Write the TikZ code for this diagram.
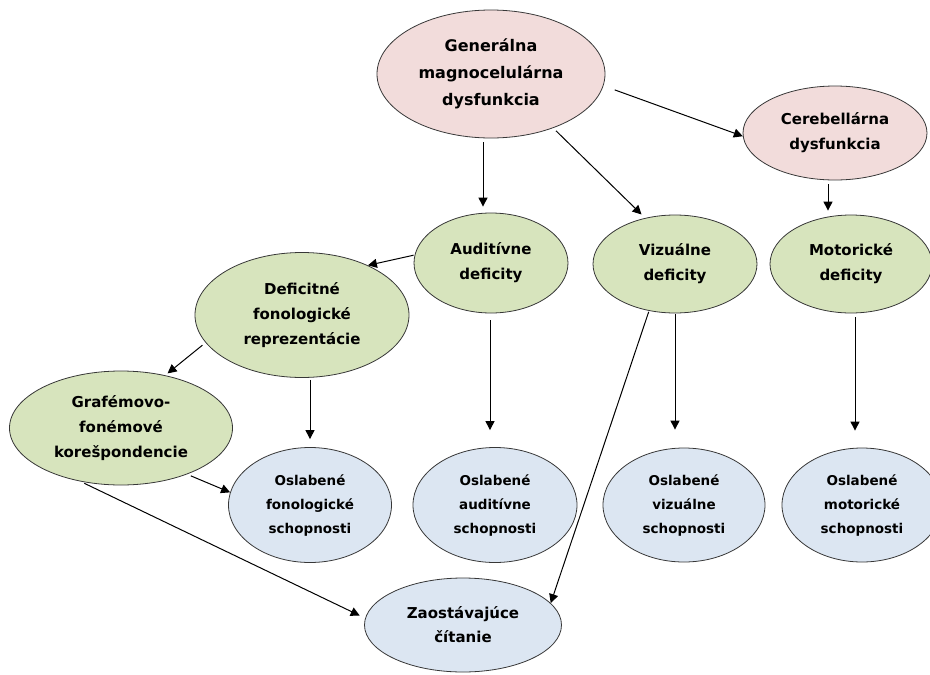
\documentclass[tikz,border=0pt]{standalone}
\usepackage{fontspec}
\setmainfont{DejaVu Sans}
\usepackage{tikz}
\usetikzlibrary{shapes.geometric, arrows.meta, calc}
\definecolor{ellpink}{RGB}{242,220,219}
\definecolor{ellgreen}{RGB}{215,228,189}
\definecolor{ellblue}{RGB}{220,230,242}
\definecolor{ellline}{RGB}{55,55,55}
\tikzset{
  causeR/.style={ellipse, inner sep=0pt, align=center, draw=ellline, fill=ellpink, line width=0.8pt, font=\bfseries\fontsize{15}{25}\selectfont},
  causeG/.style={ellipse, inner sep=0pt, align=center, draw=ellline, fill=ellgreen, line width=0.8pt, font=\bfseries\fontsize{15}{25}\selectfont},
  resultB/.style={ellipse, inner sep=0pt, align=center, draw=ellline, fill=ellblue, line width=0.8pt, font=\bfseries\fontsize{13.5}{24}\selectfont},
  arrow/.style={-{Triangle[length=9pt, width=9pt]}, line width=1pt, shorten <=4pt},
}

\begin{document}
\begin{tikzpicture}[x=1pt, y=-1pt]
\useasboundingbox (0,0) rectangle (930,675);
% causes
\node (gen) [causeR, minimum width=228pt, minimum height=128pt, font=\bfseries\fontsize{16}{27}\selectfont] at (491,74) {Generálna\\magnocelulárna\\dysfunkcia};
\node (cer) [causeR, minimum width=184pt, minimum height=94pt] at (835,133) {Cerebellárna\\dysfunkcia};
\node (aud) [causeG, minimum width=154pt, minimum height=100pt] at (491,263) {Auditívne\\deficity};
\node (viz) [causeG, minimum width=164pt, minimum height=98pt] at (675,264) {Vizuálne\\deficity};
\node (mot) [causeG, minimum width=162pt, minimum height=98pt] at (851,264) {Motorické\\deficity};
\node (def) [causeG, minimum width=214pt, minimum height=125pt] at (302,315) {Deficitné\\fonologické\\reprezentácie};
\node (graf) [causeG, minimum width=223pt, minimum height=114pt] at (121,428) {Grafémovo-\\fonémové\\korešpondencie};
% results
\node (oslfon) [resultB, minimum width=163pt, minimum height=115pt] at (310,505) {Oslabené\\fonologické\\schopnosti};
\node (oslaud) [resultB, minimum width=164pt, minimum height=115pt] at (495,505) {Oslabené\\auditívne\\schopnosti};
\node (oslviz) [resultB, minimum width=162pt, minimum height=114pt] at (684,505) {Oslabené\\vizuálne\\schopnosti};
\node (oslmot) [resultB, minimum width=160pt, minimum height=114pt] at (862,505) {Oslabené\\motorické\\schopnosti};
\node (zaost) [resultB, minimum width=197pt, minimum height=94pt, font=\bfseries\fontsize{15}{24}\selectfont] at (463,625) {Zaostávajúce\\čítanie};
% arrows
\draw[arrow, shorten <=12pt] (gen.-6) -- (cer.182);
\draw[arrow, shorten >=6pt] ([xshift=-8pt]gen.south) -- ([xshift=-8pt]gen.south |- aud.north);
\draw[arrow, shorten >=5pt] (gen.-41) -- (viz.123);
\draw[arrow, shorten >=4pt] ([xshift=-7pt]cer.south) -- ([xshift=-7pt]cer.south |- mot.north);
\draw[arrow, shorten <=1pt] (aud.174) -- (def.37);
\draw[arrow, shorten >=3pt] (def.196) -- (graf.50);
\draw[arrow, shorten <=2pt, shorten >=8pt] (oslfon.north |- def.south) -- (oslfon.north);
\draw[arrow, shorten <=7pt, shorten >=17pt] ([xshift=-1pt]aud.south) -- ([xshift=-1pt]aud.south |- oslaud.north);
\draw[arrow, shorten <=1pt, shorten >=18pt] (viz.south) -- (viz.south |- oslviz.north);
\draw[arrow, shorten >=17pt] ([xshift=4pt]mot.south) -- ([xshift=4pt]mot.south |- oslmot.north);
\draw[arrow] (graf.-35) -- (oslfon.171);
\draw[arrow, shorten >=6pt] (graf.-127) -- (zaost.176);
\draw[arrow, shorten <=1pt] (viz.-119) -- (zaost.14);
\end{tikzpicture}
\end{document}
